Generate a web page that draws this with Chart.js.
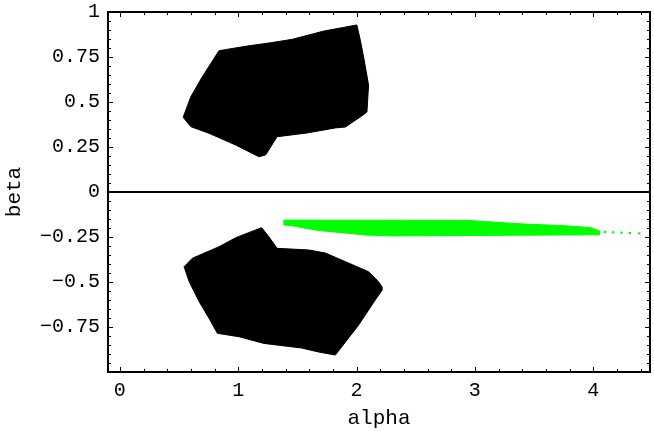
<!DOCTYPE html>
<html>
<head>
    <meta charset="utf-8">
    <title>alpha / beta regions</title>
    <script src="https://cdn.jsdelivr.net/npm/chart.js@4.4.1/dist/chart.umd.min.js"></script>
    <style>
        body { margin: 0; background: #fff; }
    </style>
</head>
<body>
    <canvas id="myChart" width="654" height="431"></canvas>
    <script>
        // upper black region (beta > 0), outline
        const upperAlpha = [0.838, 1.077, 1.274, 1.456, 1.723, 2.003, 2.032, 2.060, 2.102, 2.088, 2.032, 1.906, 1.821, 1.582, 1.329, 1.232, 1.175, 0.979, 0.754, 0.600, 0.535, 0.600, 0.698, 0.838];
        const upperBeta  = [0.785, 0.811, 0.829, 0.848, 0.894, 0.928, 0.844, 0.750, 0.594, 0.444, 0.417, 0.361, 0.356, 0.328, 0.307, 0.206, 0.196, 0.261, 0.326, 0.363, 0.415, 0.529, 0.641, 0.785];

        // lower black region (beta < 0)
        const lowerAlpha = [1.198, 1.259, 1.329, 1.596, 1.737, 1.906, 2.102, 2.186, 2.214, 2.214, 2.158, 2.102, 2.018, 1.933, 1.821, 1.680, 1.537, 1.217, 1.007, 0.824, 0.754, 0.670, 0.586, 0.543, 0.613, 0.838, 0.979, 1.198];
        const lowerBeta  = [-0.198, -0.248, -0.313, -0.322, -0.339, -0.387, -0.443, -0.498, -0.526, -0.548, -0.600, -0.656, -0.739, -0.811, -0.906, -0.889, -0.867, -0.841, -0.804, -0.785, -0.702, -0.609, -0.498, -0.415, -0.368, -0.304, -0.254, -0.198];

        // green band
        const bandAlpha = [1.386, 2.944, 3.422, 3.759, 3.980, 4.050, 4.050, 2.298, 2.074, 1.877, 1.695, 1.569, 1.470, 1.386, 1.386];
        const bandBeta  = [-0.156, -0.158, -0.178, -0.187, -0.198, -0.215, -0.238, -0.244, -0.239, -0.226, -0.215, -0.202, -0.189, -0.183, -0.156];
        // loose green points at the right end
        const tailAlpha = [4.10, 4.17, 4.24, 4.31, 4.39];
        const tailBeta  = [-0.222, -0.224, -0.226, -0.228, -0.230];

        // axes
        const xTicks = [0, 1, 2, 3, 4];
        const yTicks = [-0.75, -0.5, -0.25, 0, 0.25, 0.5, 0.75, 1];
        const xMinorStep = 0.2;
        const yMinorStep = 0.05;

        const toPoints = (xs, ys) => xs.map((v, i) => ({ x: v, y: ys[i] }));
        const FONT = "'Liberation Mono', 'Courier New', monospace";

        function region(xs, ys, color) {
            return {
                data: toPoints(xs, ys),
                borderColor: color,
                backgroundColor: color,
                borderWidth: 1,
                fill: 'shape',
                pointRadius: 0,
                tension: 0
            };
        }

        // frame, inside ticks and the beta = 0 line (Mathematica style)
        const framePlugin = {
            id: 'frame',
            afterDatasetsDraw(chart) {
                const { ctx, chartArea: a, scales } = chart;
                const sx = scales.x, sy = scales.y;
                ctx.save();
                ctx.strokeStyle = '#000';
                const seg = (x1, y1, x2, y2) => {
                    ctx.beginPath(); ctx.moveTo(x1, y1); ctx.lineTo(x2, y2); ctx.stroke();
                };
                // zero line
                ctx.lineWidth = 2;
                const y0 = sy.getPixelForValue(0);
                seg(a.left, y0, a.right, y0);

                ctx.lineWidth = 1;
                for (let v = 0; v <= sx.max + 1e-9; v += xMinorStep) {
                    const r = Math.round(v * 1000) / 1000;
                    const len = Number.isInteger(r) ? 5 : 3;
                    const px = Math.round(sx.getPixelForValue(r)) + 0.5;
                    seg(px, a.bottom, px, a.bottom - len);
                    seg(px, a.top, px, a.top + len);
                }
                for (let v = -1; v <= 1 + 1e-9; v += yMinorStep) {
                    const r = Math.round(v * 1000) / 1000;
                    const len = Math.abs(r * 4 - Math.round(r * 4)) < 1e-6 ? 5 : 3;
                    const py = Math.round(sy.getPixelForValue(r)) + 0.5;
                    seg(a.left, py, a.left + len, py);
                    seg(a.right, py, a.right - len, py);
                }
                // frame
                ctx.lineWidth = 2;
                ctx.strokeRect(a.left, a.top, a.right - a.left, a.bottom - a.top);
                ctx.restore();
            }
        };

        const config = {
            type: 'line',
            data: {
                datasets: [
                    region(upperAlpha, upperBeta, '#000000'),
                    region(lowerAlpha, lowerBeta, '#000000'),
                    region(bandAlpha, bandBeta, '#00ff00'),
                    {
                        data: toPoints(tailAlpha, tailBeta),
                        showLine: false,
                        pointStyle: 'rect',
                        pointRadius: 1.6,
                        pointBorderWidth: 0,
                        pointBackgroundColor: '#00ff00',
                        borderColor: '#00ff00'
                    }
                ]
            },
            options: {
                responsive: false,
                animation: false,
                devicePixelRatio: 1,
                layout: { padding: { left: 0, top: 12, right: 2, bottom: 0 } },
                plugins: { legend: { display: false }, tooltip: { enabled: false } },
                scales: {
                    x: {
                        type: 'linear',
                        min: -0.1,
                        max: 4.48,
                        grid: { display: false, drawTicks: false },
                        border: { display: false },
                        afterBuildTicks: s => { s.ticks = xTicks.map(v => ({ value: v })); },
                        afterFit: s => { s.height = 59; s.paddingLeft = 0; s.paddingRight = 0; },
                        ticks: {
                            autoSkip: false, maxRotation: 0, padding: 7, color: '#000',
                            font: { family: FONT, size: 20 },
                            callback: v => String(v)
                        },
                        title: { display: true, text: 'alpha', color: '#000', padding: { top: 4, bottom: 0 }, font: { family: FONT, size: 21 } }
                    },
                    y: {
                        type: 'linear',
                        min: -1,
                        max: 1,
                        grid: { display: false, drawTicks: false },
                        border: { display: false },
                        afterBuildTicks: s => { s.ticks = yTicks.map(v => ({ value: v })); },
                        afterFit: s => { s.width = 108; s.paddingTop = 0; s.paddingBottom = 0; },
                        ticks: {
                            autoSkip: false, padding: 8, color: '#000',
                            font: { family: FONT, size: 20 },
                            callback: v => v < 0 ? '\u2212' + Math.abs(v) : String(v)
                        },
                        title: { display: true, text: 'beta', color: '#000', padding: { top: 2, bottom: 4 }, font: { family: FONT, size: 21 } }
                    }
                }
            },
            plugins: [framePlugin]
        };

        const myChart = new Chart(document.getElementById('myChart'), config);
    </script>
</body>
</html>
